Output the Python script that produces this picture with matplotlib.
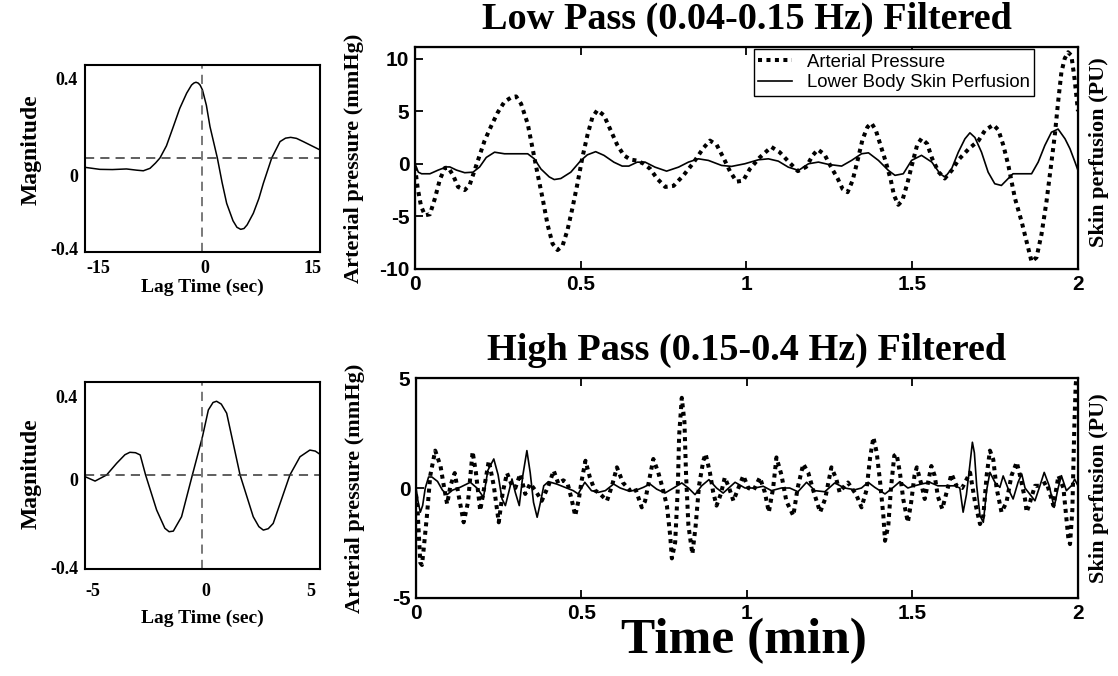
import numpy as np
import matplotlib
matplotlib.use("Agg")
import matplotlib.pyplot as plt

plt.rcParams["axes.unicode_minus"] = False
SERIF = "Liberation Serif"
SANS = "Liberation Sans"

# ---- cross-correlation panels (left) ----
lag_lp = [-15, -13.1, -11.5, -9.7, -8.4, -7.55, -6.7, -6.0, -5.43, -4.6, -3.72, -2.9,
          -2.02, -1.4, -1.1, -0.83, -0.55, -0.3, 0, 0.5, 0.96, 1.9, 2.5, 3.09, 3.9,
          4.4, 4.88, 5.3, 5.7, 6.49, 7.2, 7.77, 8.84, 9.9, 10.6, 11.26, 12.0, 12.87,
          15]
xcorr_lp = [-0.046, -0.056, -0.057, -0.054, -0.060, -0.063, -0.051, -0.025, 0.0, 0.06,
            0.155, 0.245, 0.32, 0.36, 0.370, 0.374, 0.370, 0.36, 0.336, 0.26, 0.155,
            0.0, -0.12, -0.224, -0.31, -0.342, -0.352, -0.348, -0.33, -0.273, -0.2,
            -0.125, 0.0, 0.081, 0.098, 0.102, 0.097, 0.081, 0.040]

lag_hp = [-5, -4.57, -4.08, -3.65, -3.3, -3.09, -2.85, -2.65, -2.42, -1.95, -1.6,
          -1.42, -1.24, -0.89, -0.43, 0, 0.25, 0.45, 0.6, 0.8, 1.03, 1.6, 2.16, 2.4,
          2.59, 2.8, 3.01, 3.72, 4.15, 4.57, 4.8, 5]
xcorr_hp = [-0.008, -0.030, 0.0, 0.058, 0.100, 0.112, 0.110, 0.099, 0.0, -0.173,
            -0.263, -0.280, -0.277, -0.206, 0.0, 0.189, 0.321, 0.358, 0.364, 0.350,
            0.305, 0.0, -0.206, -0.255, -0.272, -0.265, -0.239, 0.0, 0.090, 0.123,
            0.118, 0.102]

# ---- low pass time series (top right) ----
t_lp_ap = [0.0, 0.008, 0.018, 0.03, 0.045, 0.06, 0.075, 0.09, 0.10, 0.115, 0.13, 0.15,
           0.165, 0.18, 0.195, 0.21, 0.23, 0.25, 0.27, 0.29, 0.305, 0.32, 0.34, 0.355,
           0.37, 0.385, 0.40, 0.415, 0.43, 0.445, 0.46, 0.475, 0.49, 0.505, 0.52, 0.535,
           0.55, 0.57, 0.59, 0.61, 0.63, 0.65, 0.67, 0.69, 0.71, 0.73, 0.755, 0.78,
           0.81, 0.84, 0.87, 0.89, 0.91, 0.93, 0.95, 0.97, 0.99, 1.01, 1.04, 1.075,
           1.10, 1.13, 1.155, 1.18, 1.20, 1.215, 1.235, 1.255, 1.275, 1.29, 1.305,
           1.32, 1.335, 1.35, 1.365, 1.377, 1.39, 1.405, 1.42, 1.435, 1.445, 1.458,
           1.47, 1.485, 1.50, 1.515, 1.528, 1.545, 1.56, 1.58, 1.598, 1.62, 1.64, 1.67,
           1.70, 1.72, 1.745, 1.76, 1.775, 1.79, 1.80, 1.81, 1.83, 1.845, 1.86, 1.875,
           1.89, 1.905, 1.92, 1.93, 1.94, 1.95, 1.96, 1.97, 1.98, 1.99, 2.0]
lp_ap = [-0.3, -2.3, -4.0, -4.9, -4.8, -3.3, -1.5, -0.4, -0.35, -1.1, -2.2, -2.5,
         -2.0, -0.6, 0.8, 2.2, 3.6, 4.9, 5.9, 6.3, 6.4, 5.7, 3.8, 1.4,
         -1.0, -3.3, -5.8, -7.6, -8.2, -7.8, -6.3, -4.2, -1.9, 0.6, 2.7, 4.4,
         5.1, 4.6, 3.2, 1.8, 0.8, 0.4, 0.3, 0.0, -0.5, -1.4, -2.2, -2.1,
         -1.1, 0.1, 1.5, 2.2, 1.8, 0.6, -0.7, -1.7, -1.6, -0.5, 0.6, 1.6,
         1.1, 0.1, -0.7, -0.3, 0.8, 1.35, 0.9, -0.3, -1.4, -2.4, -2.7,
         -1.6, 0.3, 2.3, 3.5, 3.86, 3.2, 1.7, 0.2, -1.5, -3.0, -3.9,
         -3.5, -1.9, 0.0, 1.8, 2.4, 1.9, 0.5, -0.8, -1.4, -0.6, 0.4, 1.4,
         2.2, 3.2, 3.7, 3.2, 1.74, -0.16, -1.74, -3.3, -5.5, -7.4, -9.3, -8.9,
         -6.7, -3.6, 0.16, 2.7, 5.85, 8.7, 10.0, 10.6, 10.3, 8.0, 5.0]

t_lp_sp = [0.0, 0.01, 0.02, 0.045, 0.07, 0.095, 0.105, 0.125, 0.15, 0.175, 0.195, 0.215,
           0.24, 0.27, 0.30, 0.34, 0.36, 0.38, 0.405, 0.42, 0.44, 0.47, 0.50, 0.52,
           0.545, 0.57, 0.60, 0.625, 0.645, 0.67, 0.694, 0.724, 0.759, 0.795, 0.825,
           0.855, 0.885, 0.925, 0.955, 0.995, 1.036, 1.066, 1.096, 1.126, 1.157, 1.187,
           1.217, 1.247, 1.287, 1.317, 1.347, 1.368, 1.398, 1.428, 1.448, 1.473, 1.498,
           1.528, 1.559, 1.584, 1.599, 1.619, 1.639, 1.659, 1.674, 1.689, 1.709, 1.729,
           1.749, 1.769, 1.789, 1.804, 1.860, 1.880, 1.900, 1.920, 1.940, 1.961, 1.976,
           1.991, 2.0]
lp_sp = [0.0, -0.8, -0.95, -0.95, -0.6, -0.3, -0.3, -0.6, -0.85, -0.8, -0.3, 0.6,
         1.1, 0.95, 0.95, 0.95, 0.47, -0.5, -1.25, -1.5, -1.4, -0.8, 0.3, 0.85,
         1.15, 0.8, 0.15, -0.22, -0.22, 0.15, 0.16, -0.32, -0.7, -0.32, 0.16,
         0.47, 0.32, -0.16, -0.25, 0.0, 0.38, 0.47, 0.25, -0.32, -0.63, 0.0,
         0.16, -0.06, -0.22, 0.32, 0.95, 1.04, 0.32, -0.63, -1.1, -0.95, 0.32,
         0.8, 0.16, -0.95, -1.27, -0.47, 1.1, 2.37, 2.94, 2.5, 1.1, -0.8,
         -1.9, -2.06, -1.42, -0.95, -0.95, 0.16, 1.74, 3.0, 3.3, 2.37, 1.42,
         0.16, -0.63]

# ---- high pass time series (bottom right) ----
t_hp_ap = [0.0, 0.004, 0.013, 0.018, 0.023, 0.033, 0.043, 0.058, 0.074, 0.084, 0.094,
           0.104, 0.117, 0.129, 0.144, 0.157, 0.171, 0.181, 0.194, 0.207, 0.22, 0.235,
           0.25, 0.262, 0.275, 0.29, 0.30, 0.315, 0.33, 0.345, 0.36, 0.38, 0.40, 0.416,
           0.43, 0.445, 0.458, 0.47, 0.481, 0.492, 0.50, 0.512, 0.525, 0.54, 0.555,
           0.577, 0.592, 0.607, 0.625, 0.645, 0.662, 0.682, 0.692, 0.707, 0.717, 0.732,
           0.745, 0.758, 0.768, 0.773, 0.783, 0.791, 0.795, 0.803, 0.811, 0.816, 0.823,
           0.835, 0.845, 0.855, 0.868, 0.875, 0.888, 0.898, 0.908, 0.921, 0.933, 0.946,
           0.959, 0.974, 0.989, 1.004, 1.02, 1.039, 1.054, 1.066, 1.079, 1.089, 1.104,
           1.119, 1.14, 1.153, 1.170, 1.185, 1.20, 1.221, 1.236, 1.255, 1.27, 1.28,
           1.295, 1.305, 1.33, 1.346, 1.361, 1.372, 1.382, 1.392, 1.402, 1.412, 1.417,
           1.427, 1.435, 1.445, 1.452, 1.462, 1.472, 1.486, 1.496, 1.506, 1.513, 1.528,
           1.537, 1.547, 1.557, 1.567, 1.577, 1.590, 1.603, 1.618, 1.633, 1.65, 1.674,
           1.689, 1.704, 1.714, 1.724, 1.734, 1.744, 1.754, 1.769, 1.784, 1.799, 1.815,
           1.825, 1.84, 1.845, 1.855, 1.870, 1.885, 1.905, 1.926, 1.941, 1.956, 1.971,
           1.976, 1.983, 1.989, 1.993, 2.0]
hp_ap = [-0.3, -0.8, -3.4, -3.5, -2.8, -1.26, 0.56, 1.7, 1.0, 0.1, -0.73,
         0.1, 0.68, -0.35, -1.56, -0.65, 1.65, 0.7, -1.03, 0.1, 1.24, 0.1,
         -1.56, -0.2, 0.68, 0.1, 0.0, 0.64, -0.27, 0.2, -0.1, -0.58, 0.1, 0.79,
         0.2, 0.35, 0.2, -0.5, -1.26, -0.5, 0.3, 1.24, 0.5, -0.1, -0.25,
         -0.58, 0.1, 0.94, 0.25, -0.1, 0.0, -0.88, -0.6, 0.56, 1.32, 0.7,
         0.0, -0.8, -2.17, -3.2, -2.47, 0.0, 2.4, 4.1, 3.0, 0.56, -1.7,
         -3.0, -1.7, 0.1, 1.24, 1.55, 0.7, -0.2, -0.8, -0.27, 0.48, 0.0,
         -0.58, 0.0, 0.56, 0.0, -0.1, 0.48, -0.2, -1.1, 0.0, 1.39, 0.6,
         -0.6, -1.26, 0.0, 1.09, 0.7, -0.1, -1.1, -0.5, 0.94, 0.4, -0.2,
         0.1, 0.25, -0.3, -0.88, -0.1, 1.39, 2.3, 1.6, 0.3, -1.26, -2.4,
         -1.7, 0.0, 1.47, 1.55, 0.7, -0.5, -1.56, -0.65, 0.56, 0.94, 0.1,
         -0.5, 0.26, 1.0, 0.56, -0.4, -0.95, -0.2, 0.64, 0.1, 0.0, 0.7,
         -0.65, -1.64, -1.26, 0.56, 1.7, 1.3, 0.0, -1.1, -0.65, 0.56, 1.17,
         0.56, -0.5, -1.1, -0.65, 0.1, 0.1, 0.26, -0.8, 0.56, 0.0, -2.3,
         -2.55, -1.0, 2.8, 4.65, 6.0]

t_hp_sp = [0.0, 0.006, 0.013, 0.02, 0.028, 0.038, 0.048, 0.065, 0.08, 0.094, 0.11,
           0.133, 0.164, 0.184, 0.204, 0.217, 0.235, 0.248, 0.26, 0.27, 0.28, 0.29,
           0.30, 0.312, 0.323, 0.335, 0.345, 0.355, 0.366, 0.376, 0.386, 0.40, 0.425,
           0.45, 0.475, 0.49, 0.51, 0.53, 0.55, 0.572, 0.597, 0.617, 0.64, 0.662,
           0.687, 0.707, 0.727, 0.752, 0.778, 0.803, 0.823, 0.843, 0.863, 0.885, 0.908,
           0.928, 0.964, 0.994, 1.024, 1.049, 1.074, 1.104, 1.129, 1.154, 1.180, 1.205,
           1.235, 1.265, 1.295, 1.326, 1.346, 1.366, 1.386, 1.417, 1.442, 1.462, 1.486,
           1.506, 1.527, 1.552, 1.577, 1.60, 1.628, 1.643, 1.653, 1.663, 1.673, 1.681,
           1.687, 1.694, 1.704, 1.714, 1.724, 1.734, 1.749, 1.764, 1.774, 1.789, 1.804,
           1.819, 1.83, 1.84, 1.87, 1.885, 1.898, 1.913, 1.928, 1.94, 1.950, 1.965,
           1.98, 1.99, 2.0]
hp_sp = [0.0, -0.6, -1.1, -0.8, 0.0, 0.5, 0.5, 0.3, -0.1, -0.3, -0.1,
         0.03, 0.26, 0.0, -0.42, 0.8, 1.32, 0.6, -0.5, -0.8, -0.2, 0.41,
         -0.2, -0.8, 0.6, 1.7, 0.7, -0.65, -1.33, -0.65, 0.1, 0.29, 0.18,
         0.03, -0.12, -0.27, 0.26, -0.12, -0.2, -0.12, 0.18, 0.0, -0.12, -0.12,
         0.03, 0.18, -0.05, -0.23, 0.0, 0.23, 0.0, -0.3, 0.1, 0.38, 0.0,
         -0.23, 0.26, 0.0, 0.0, 0.08, -0.12, 0.0, 0.0, -0.17, 0.26, -0.12,
         -0.17, 0.23, 0.0, -0.08, 0.0, 0.26, 0.03, -0.27, 0.03, 0.29, 0.0,
         0.1, 0.18, 0.26, 0.1, 0.1, 0.1, 0.0, -1.1, -0.3, 1.0, 2.08,
         1.6, 0.1, -1.26, -1.56, -0.1, 0.71, 0.26, 0.03, 0.55, -0.03, -0.5,
         0.26, 0.64, 0.0, -0.58, 0.1, 0.71, 0.1, -0.88, 0.0, 0.56, -0.12,
         0.1, 0.4, 0.1]

# tick labels of the left panels sit where the original figure put them
lp_xtick_pos = [-13.3, 0.3, 14.0]
hp_xtick_pos = [-4.66, 0.13, 4.6]
lp_ytick_pos = [-0.449, -0.088, 0.394]
hp_ytick_pos = [-0.457, -0.022, 0.385]

fig = plt.figure(figsize=(11.18, 6.76), dpi=100)

DOT = dict(color="black", linewidth=2.9, linestyle=(0, (1, 1.1)), dash_capstyle="butt")
SOLID = dict(color="black", linewidth=1.2)


def xcorr_panel(rect, lag, val, xlim, xt_pos, xt_lab, yt_pos, xpad, xlab_y, ylab_y):
    ax = fig.add_axes(rect)
    ax.plot(lag, val, color="black", linewidth=1.1)
    ax.axhline(0, color="#333333", linewidth=1.1, linestyle=(0, (6, 4)))
    ax.axvline(0, color="#555555", linewidth=1.1, linestyle=(0, (6, 4)))
    ax.set_xlim(xlim)
    ax.set_ylim(-0.464, 0.459)
    ax.set_xticks(xt_pos, xt_lab, fontfamily=SERIF, fontweight="bold", fontsize=13)
    ax.set_yticks(yt_pos, ["-0.4", "0", "0.4"], fontfamily=SERIF, fontweight="bold",
                  fontsize=13)
    ax.tick_params(axis="x", length=0, pad=xpad)
    ax.tick_params(axis="y", length=0, pad=5)
    for s in ax.spines.values():
        s.set_linewidth(1.5)
    ax.set_ylabel("Magnitude", fontfamily=SERIF, fontweight="bold", fontsize=17)
    ax.yaxis.set_label_coords(-0.185, ylab_y)
    ax.set_xlabel("Lag Time (sec)", fontfamily=SERIF, fontweight="bold", fontsize=14)
    ax.xaxis.set_label_coords(0.5, xlab_y)
    return ax


xcorr_panel([0.0760, 0.6272, 0.2102, 0.2766], lag_lp, xcorr_lp, (-15, 15),
            lp_xtick_pos, ["-15", "0", "15"], lp_ytick_pos, 6, -0.14, 0.545)
xcorr_panel([0.0760, 0.1583, 0.2102, 0.2766], lag_hp, xcorr_hp, (-5, 5),
            hp_xtick_pos, ["-5", "0", "5"], hp_ytick_pos, 10, -0.22, 0.51)


def series_panel(rect, t_ap, ap, t_sp, sp, ylim, yticks, title, skin_y, legend=False):
    ax = fig.add_axes(rect)
    l1, = ax.plot(t_ap, ap, **DOT, label="Arterial Pressure")
    l2, = ax.plot(t_sp, sp, **SOLID, label="Lower Body Skin Perfusion")
    ax.set_xlim(0, 2)
    ax.set_ylim(ylim)
    ax.set_xticks([0, 0.5, 1, 1.5, 2], ["0", "0.5", "1", "1.5", "2"])
    ax.set_yticks(yticks)
    for lab in ax.get_xticklabels() + ax.get_yticklabels():
        lab.set_fontfamily(SANS)
        lab.set_fontweight("bold")
        lab.set_fontsize(15)
    ax.tick_params(direction="in", length=6, width=1.3, top=True, right=True, pad=4)
    for s in ax.spines.values():
        s.set_linewidth(1.6)
    ax.set_ylabel("Arterial pressure (mmHg)", fontfamily=SERIF, fontweight="bold",
                  fontsize=16)
    ax.yaxis.set_label_coords(-0.077, 0.5)
    ax.set_title(title, fontfamily=SERIF, fontweight="bold", fontsize=27.5, pad=13)
    ax2 = ax.twinx()
    ax2.set_ylim(ylim)
    ax2.set_yticks([])
    ax2.set_ylabel("Skin perfusion (PU)", fontfamily=SERIF, fontweight="bold",
                   fontsize=16)
    ax2.yaxis.set_label_coords(1.017, skin_y)
    if legend:
        leg = ax2.legend([l1, l2], ["Arterial Pressure", "Lower Body Skin Perfusion"],
                         loc="upper right", bbox_to_anchor=(0.934, 0.991),
                         borderaxespad=0, fancybox=False, framealpha=1,
                         edgecolor="black", handlelength=1.8, handletextpad=0.8,
                         borderpad=0.25, labelspacing=0.2,
                         prop={"family": SANS, "size": 13.4})
        leg.get_frame().set_linewidth(1.0)
    return ax


series_panel([0.3712, 0.6021, 0.5930, 0.3284], t_lp_ap, lp_ap, t_lp_sp, lp_sp,
             (-10, 11.1), [-10, -5, 0, 5, 10], "Low Pass (0.04-0.15 Hz) Filtered",
             0.527, legend=True)
series_panel([0.3721, 0.1154, 0.5921, 0.3254], t_hp_ap, hp_ap, t_hp_sp, hp_sp,
             (-5, 5), [-5, 0, 5], "High Pass (0.15-0.4 Hz) Filtered", 0.5)

fig.text(0.665, 0.052, "Time (min)", ha="center", va="center", fontfamily=SERIF,
         fontweight="bold", fontsize=37)

fig.savefig("out.png", dpi=100)
